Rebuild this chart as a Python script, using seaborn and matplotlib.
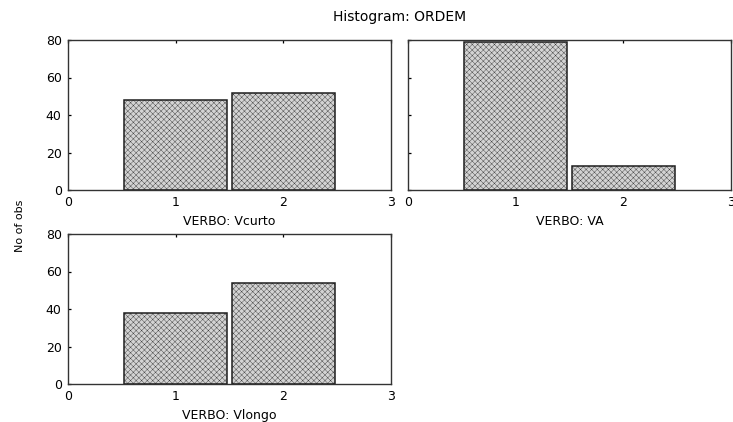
import matplotlib
matplotlib.use("Agg")
import matplotlib.pyplot as plt
import seaborn as sns
import pandas as pd

# Category codes of ORDEM and observed counts per VERBO group
ordem_codes = [1, 2]
counts_vcurto = [48, 52]
counts_va = [79, 13]
counts_vlongo = [38, 54]
panel_titles = ["VERBO: Vcurto", "VERBO: VA", "VERBO: Vlongo"]
y_ticks = [0, 20, 40, 60, 80]
x_ticks = [0, 1, 2, 3]

sns.set_theme(style="white")
plt.rcParams["font.family"] = ["DejaVu Sans"]
plt.rcParams["hatch.color"] = "#bababa"

fig = plt.figure(figsize=(7.33, 4.22), dpi=100)
W, H = 733, 422


def add_axes_px(x0, y0, x1, y1):
    return fig.add_axes([x0 / W, 1 - y1 / H, (x1 - x0) / W, (y1 - y0) / H])


ax1 = add_axes_px(68, 40, 391, 190)
ax2 = add_axes_px(408, 40, 731, 190)
ax3 = add_axes_px(68, 234, 391, 384)

panels = [(ax1, counts_vcurto, True), (ax2, counts_va, False), (ax3, counts_vlongo, True)]

for (ax, counts, show_y), label in zip(panels, panel_titles):
    df = pd.DataFrame({"ORDEM": ordem_codes, "n": counts})
    sns.histplot(data=df, x="ORDEM", weights="n", discrete=True, shrink=0.96,
                 ax=ax, color="#d3d3d3", alpha=1, edgecolor="#1e1e1e",
                 linewidth=1.1)
    for p in ax.patches:
        p.set_hatch("xxxxxx")
        p.set_hatch_linewidth(0.25)
    ax.set_xlim(0, 3)
    ax.set_ylim(0, 80)
    ax.set_xticks(x_ticks)
    ax.set_yticks(y_ticks)
    ax.set_xlabel(label, fontsize=9, labelpad=4, color="#000000")
    ax.set_ylabel("")
    ax.tick_params(axis="both", labelsize=9, colors="#000000", length=2.5,
                   width=0.9, direction="in", pad=4.5)
    ax.tick_params(axis="x", bottom=False, top=True)
    ax.tick_params(axis="y", left=True, right=False)
    if not show_y:
        ax.set_yticklabels([])
    for s in ax.spines.values():
        s.set_visible(True)
        s.set_color("#333333")
        s.set_linewidth(1.0)

fig.text(399.5 / W, 1 - 17 / H, "Histogram: ORDEM", ha="center", va="center",
         fontsize=10, color="#000000")
fig.text(20 / W, 1 - 226 / H, "No of obs", ha="center", va="center",
         rotation=90, fontsize=8, color="#000000")

fig.savefig("out.png", dpi=100, facecolor="white")
